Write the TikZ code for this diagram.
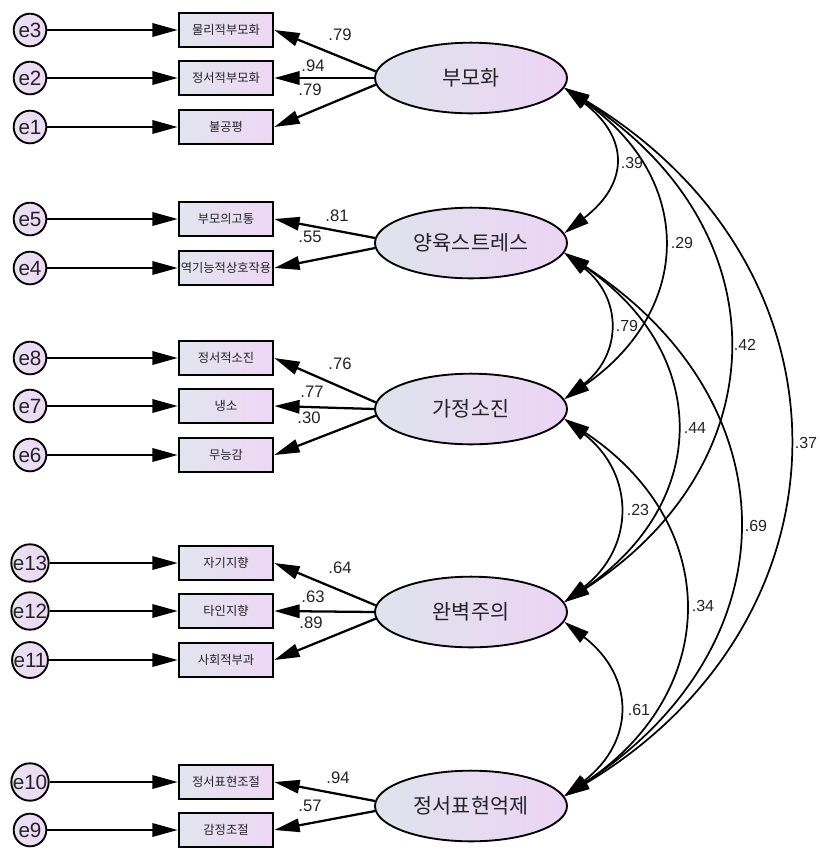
\documentclass[tikz,border=0pt]{standalone}
\usepackage{fontspec}
\setmainfont{Liberation Sans}
\newfontfamily\kr{Noto Sans CJK KR}
\usetikzlibrary{arrows.meta,shapes.geometric}
\definecolor{latl}{RGB}{223,227,237}
\definecolor{latr}{RGB}{236,212,244}
\definecolor{boxl}{RGB}{226,229,238}
\definecolor{boxr}{RGB}{238,215,245}
\definecolor{errl}{RGB}{232,227,240}
\definecolor{errr}{RGB}{238,216,245}
\definecolor{ink}{RGB}{35,35,40}
\begin{document}
\begin{tikzpicture}[x=0.75pt,y=-0.75pt,>={Triangle[length=19pt,width=10pt]},
    lat/.style={ellipse,draw,line width=1.4pt,inner sep=0pt,minimum width=144pt,minimum height=53pt,
        left color=latl,right color=latr,text=ink,font=\kr\fontsize{15.5}{18}\selectfont},
    obs/.style={rectangle,draw,line width=1.9pt,inner sep=0pt,minimum width=70.5pt,minimum height=25.5pt,
        left color=boxl,right color=boxr,text=ink,font=\kr\fontsize{9.2}{10}\selectfont},
    err/.style={circle,draw,line width=1.4pt,inner sep=0pt,minimum size=24.5pt,
        left color=errl,right color=errr,text=ink,font=\fontsize{15.5}{16}\selectfont},
    ld/.style={->,line width=1.7pt},
    cv/.style={<->,line width=1.3pt},
    lw/.style={text=ink,font=\fontsize{12.5}{13}\selectfont},
    cw/.style={text=ink,font=\fontsize{12}{13}\selectfont}]
\useasboundingbox (0,0) rectangle (819,851);

% latent factors
\node[lat] (pm) at (471,78) {부모화};
\node[lat] (ps) at (471,243) {양육스트레스};
\node[lat] (fe) at (471,409) {가정소진};
\node[lat] (pf) at (471,612) {완벽주의};
\node[lat] (es) at (471,806) {정서표현억제};

% indicators
\node[obs] (v3) at (226,30) {물리적부모화};
\node[obs] (v2) at (226,78) {정서적부모화};
\node[obs] (v1) at (226,127) {불공평};
\node[obs] (v5) at (226,219) {부모의고통};
\node[obs] (v4) at (226,268) {\makebox[0pt]{역기능적상호작용}};
\node[obs] (v8) at (226,358) {정서적소진};
\node[obs] (v7) at (226,406) {냉소};
\node[obs] (v6) at (226,455) {무능감};
\node[obs] (v13) at (226,563) {자기지향};
\node[obs] (v12) at (226,611) {타인지향};
\node[obs] (v11) at (226,660) {사회적부과};
\node[obs] (v10) at (226,782) {정서표현조절};
\node[obs] (v9) at (226,830) {감정조절};

% errors
\node[err] (e3) at (30,30) {e3};
\node[err] (e2) at (30,78) {e2};
\node[err] (e1) at (30,127) {e1};
\node[err] (e5) at (30,219) {e5};
\node[err] (e4) at (30,268) {e4};
\node[err] (e8) at (30,358) {e8};
\node[err] (e7) at (30,406) {e7};
\node[err] (e6) at (30,455) {e6};
\node[err] (e13) at (30,563) {e13};
\node[err] (e12) at (30,611) {e12};
\node[err] (e11) at (30,660) {e11};
\node[err] (e10) at (30,782) {e10};
\node[err] (e9) at (30,830) {e9};

\draw[ld] (e3) -- (v3);
\draw[ld] (e2) -- (v2);
\draw[ld] (e1) -- (v1);
\draw[ld] (e5) -- (v5);
\draw[ld] (e4) -- (v4);
\draw[ld] (e8) -- (v8);
\draw[ld] (e7) -- (v7);
\draw[ld] (e6) -- (v6);
\draw[ld] (e13) -- (v13);
\draw[ld] (e12) -- (v12);
\draw[ld] (e11) -- (v11);
\draw[ld] (e10) -- (v10);
\draw[ld] (e9) -- (v9);

% loadings
\draw[ld] (pm.176) -- (v3.east);
\draw[ld] (pm.west) -- (v2.east);
\draw[ld] (pm.184) -- (v1.east);
\draw[ld] (ps.177) -- (v5.east);
\draw[ld] (ps.183) -- (v4.east);
\draw[ld] (fe.176) -- (v8.east);
\draw[ld] (fe.west) -- (v7.east);
\draw[ld] (fe.184) -- (v6.east);
\draw[ld] (pf.176) -- (v13.east);
\draw[ld] (pf.west) -- (v12.east);
\draw[ld] (pf.184) -- (v11.east);
\draw[ld] (es.177) -- (v10.east);
\draw[ld] (es.183) -- (v9.east);

\node[lw] (w3) at (340,35) {.79};
\node[lw] (w2) at (313,66) {.94};
\node[lw] (w1) at (310,90) {.79};
\node[lw] (w5) at (337,216) {.81};
\node[lw] (w4) at (310,237) {.55};
\node[lw] (w8) at (340,364) {.76};
\node[lw] (w7) at (312,392) {.77};
\node[lw] (w6) at (309,418) {.30};
\node[lw] (w13) at (340,568) {.64};
\node[lw] (w12) at (313,597) {.63};
\node[lw] (w11) at (311,623) {.89};
\node[lw] (w10) at (338,778) {.94};
\node[lw] (w9) at (310,806) {.57};

% correlations
\draw[cv] (pm.-6) .. controls +(65,50) and +(65,-50) .. (ps.6);
\draw[cv] (pm.-6) .. controls +(130,90) and +(130,-90) .. (fe.6);
\draw[cv] (pm.-6) .. controls +(217,140) and +(217,-140) .. (pf.6);
\draw[cv] (pm.-6) .. controls +(297,178) and +(297,-178) .. (es.6);
\draw[cv] (ps.-6) .. controls +(58,45) and +(58,-45) .. (fe.6);
\draw[cv] (ps.-6) .. controls +(147,100) and +(147,-100) .. (pf.6);
\draw[cv] (ps.-6) .. controls +(230,150) and +(230,-150) .. (es.6);
\draw[cv] (fe.-6) .. controls +(71,55) and +(71,-55) .. (pf.6);
\draw[cv] (fe.-6) .. controls +(158,105) and +(158,-105) .. (es.6);
\draw[cv] (pf.-6) .. controls +(71,55) and +(71,-55) .. (es.6);

\node[cw] (c1) at (632,163) {.39};
\node[cw] (c2) at (682,243) {.29};
\node[cw] (c3) at (745,345) {.42};
\node[cw] (c4) at (806,443) {.37};
\node[cw] (c5) at (627,326) {.79};
\node[cw] (c6) at (695,428) {.44};
\node[cw] (c7) at (756,526) {.69};
\node[cw] (c8) at (638,510) {.23};
\node[cw] (c9) at (703,606) {.34};
\node[cw] (c10) at (639,710) {.61};
\end{tikzpicture}
\end{document}
